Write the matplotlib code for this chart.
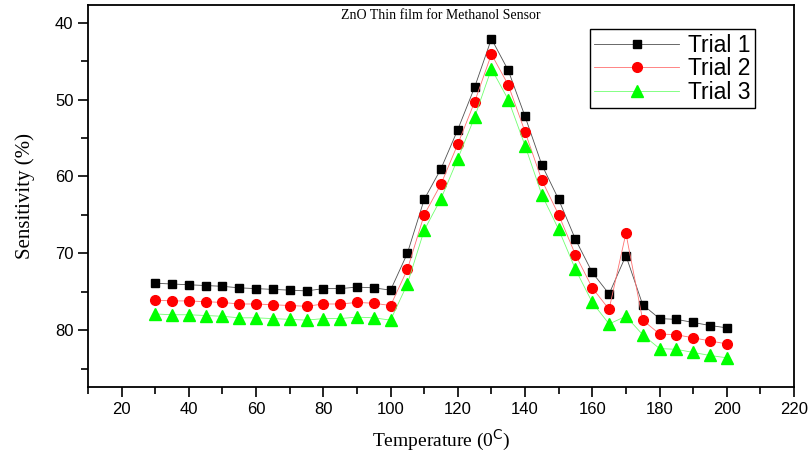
import matplotlib
matplotlib.use("Agg")
import matplotlib.pyplot as plt
from matplotlib.ticker import MultipleLocator

# temperature (deg C)
temp = [30, 35, 40, 45, 50, 55, 60, 65, 70, 75, 80, 85, 90, 95, 100,
        105, 110, 115, 120, 125, 130, 135, 140, 145, 150, 155, 160, 165, 170,
        175, 180, 185, 190, 195, 200]

trial1 = [73.9, 74.0, 74.1, 74.2, 74.3, 74.5, 74.6, 74.7, 74.8, 74.9, 74.6, 74.6, 74.4, 74.5, 74.8,
          70.0, 63.0, 59.0, 53.9, 48.4, 42.1, 46.2, 52.2, 58.5, 63.0, 68.2, 72.5, 75.3, 70.3,
          76.7, 78.5, 78.6, 79.0, 79.4, 79.7]
trial2 = [76.1, 76.2, 76.2, 76.3, 76.4, 76.6, 76.6, 76.7, 76.8, 76.9, 76.6, 76.6, 76.4, 76.5, 76.8,
          72.1, 65.0, 61.0, 55.8, 50.3, 44.1, 48.1, 54.2, 60.5, 65.0, 70.2, 74.5, 77.3, 67.4,
          78.7, 80.5, 80.6, 81.0, 81.4, 81.8]
trial3 = [77.9, 78.0, 78.0, 78.1, 78.2, 78.4, 78.4, 78.5, 78.6, 78.7, 78.5, 78.5, 78.3, 78.4, 78.7,
          74.0, 67.0, 62.9, 57.7, 52.3, 46.0, 50.0, 56.0, 62.4, 66.9, 72.1, 76.4, 79.2, 78.2,
          80.6, 82.4, 82.5, 82.9, 83.3, 83.6]

fig = plt.figure(figsize=(8.12, 4.55), dpi=100)
ax = fig.add_axes([88 / 812, 1 - 387 / 455, (794 - 88) / 812, (387 - 5) / 455])

ax.plot(temp, trial1, color='#505050', lw=0.6, marker='s', ms=6,
        mfc='black', mec='black', label='Trial 1')
ax.plot(temp, trial2, color='#ff7070', lw=0.6, marker='o', ms=7,
        mfc='red', mec='red', label='Trial 2')
ax.plot(temp, trial3, color='#70ff70', lw=0.6, marker='^', ms=8,
        mfc='#00ff00', mec='#00ff00', label='Trial 3')

ax.set_xlim(10, 220)
ax.set_ylim(87.4, 37.7)
ax.xaxis.set_major_locator(MultipleLocator(20))
ax.xaxis.set_minor_locator(MultipleLocator(10))
ax.yaxis.set_major_locator(MultipleLocator(10))
ax.yaxis.set_minor_locator(MultipleLocator(5))
ax.tick_params(which='major', direction='out', length=7, width=1.2, labelsize=12)
ax.tick_params(which='minor', direction='out', length=5, width=1.2)
for lab in ax.get_xticklabels() + ax.get_yticklabels():
    lab.set_family('Liberation Sans')
for s in ax.spines.values():
    s.set_linewidth(1.3)

ax.text(0.5, 0.99, 'ZnO Thin film for Methanol Sensor', transform=ax.transAxes,
        ha='center', va='top', family='Liberation Serif', fontsize=10)
ax.set_xlabel('Temperature (0$^{\\mathrm{C}}$)', family='Liberation Serif', fontsize=14, labelpad=8)
ax.set_ylabel('Sensitivity (%)', family='Liberation Serif', fontsize=15, labelpad=14)

leg = ax.legend(loc='upper right', bbox_to_anchor=(0.945, 0.937), borderaxespad=0,
                fancybox=False, edgecolor='black', framealpha=1, handlelength=3.7,
                borderpad=0.2, labelspacing=0.02, handletextpad=0.4,
                prop={'family': 'Liberation Sans', 'size': 16.5})
leg.get_frame().set_linewidth(1.0)

fig.savefig('out.png', dpi=100)
